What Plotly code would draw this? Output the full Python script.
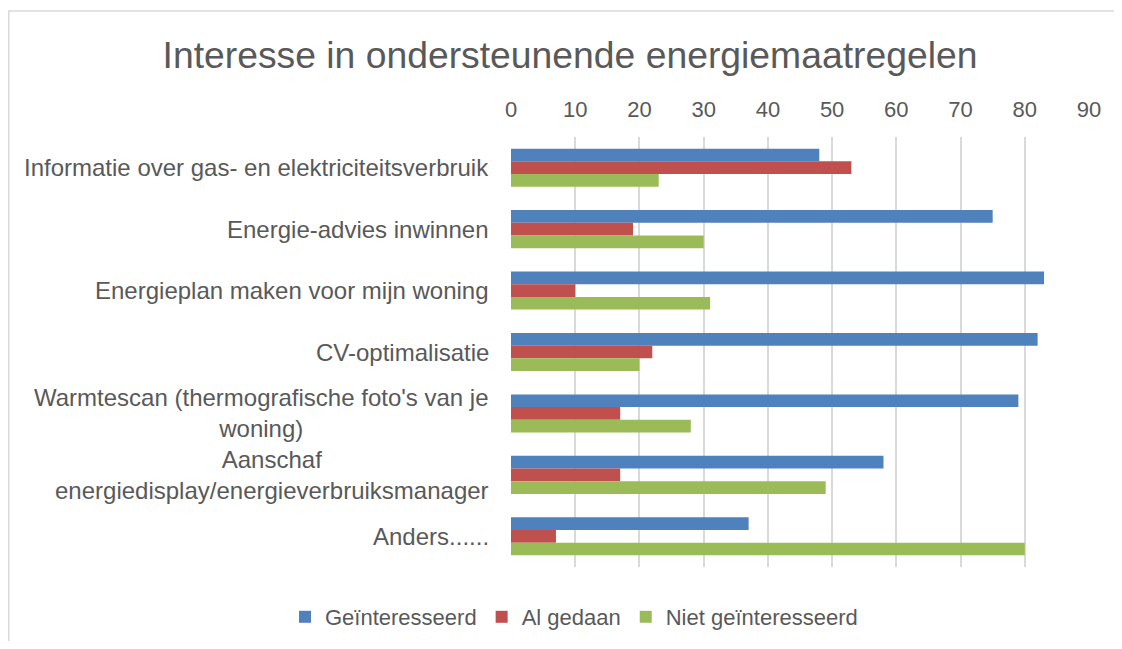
import plotly.graph_objects as go

# categorieën (boven naar beneden)
categorieen = [
    "Informatie over gas- en elektriciteitsverbruik",
    "Energie-advies inwinnen",
    "Energieplan maken voor mijn woning",
    "CV-optimalisatie",
    "Warmtescan (thermografische foto's van je<br>woning)",
    "Aanschaf<br>energiedisplay/energieverbruiksmanager",
    "Anders......",
]
geinteresseerd = [48, 75, 83, 82, 79, 58, 37]
al_gedaan = [53, 19, 10, 22, 17, 17, 7]
niet_geinteresseerd = [23, 30, 31, 20, 28, 49, 80]

x_ticks = list(range(0, 100, 10))

# pagina heeft 8px body-marge, dus figuur iets kleiner
W, H = 1106, 633
ML, MR, MT, MB = 503, 25, 129, 74
FG = '#595959'
GRID = '#D9D9D9'
FONT = 'Liberation Sans, Arial, sans-serif'

pw = W - ML - MR
ph = H - MT - MB

fig = go.Figure()
series = [
    ('Geïnteresseerd', geinteresseerd, '#4F81BD'),
    ('Al gedaan', al_gedaan, '#C0504D'),
    ('Niet geïnteresseerd', niet_geinteresseerd, '#9BBB59'),
]
for naam, waarden, kleur in series:
    fig.add_trace(go.Bar(
        y=categorieen, x=waarden, name=naam, orientation='h',
        marker={'color': kleur, 'line': {'width': 0}},
    ))

# categorie-labels als gecentreerde tekstblokken (zoals Excel)
for cat in categorieen:
    fig.add_annotation(
        x=0, xref='paper', y=cat, yref='y', text=cat,
        xanchor='right', yanchor='middle', align='center', xshift=-20,
        showarrow=False, font={'size': 24, 'color': FG, 'family': FONT},
    )

# rand rondom grafiek
fig.add_shape(
    type='rect', xref='paper', yref='paper',
    x0=(0.75 - ML) / pw, x1=(W + 10 - ML) / pw,
    y0=(H - MB - (H + 10)) / ph, y1=(H - MB - 3) / ph,
    line={'color': GRID, 'width': 1.5}, fillcolor='rgba(0,0,0,0)', layer='below',
)

fig.update_layout(
    width=W, height=H,
    margin={'l': ML, 'r': MR, 't': MT, 'b': MB, 'autoexpand': False},
    paper_bgcolor='white', plot_bgcolor='white',
    font={'family': FONT, 'color': FG, 'size': 22},
    title={
        'text': 'Interesse in ondersteunende energiemaatregelen',
        'font': {'size': 37.3, 'color': FG, 'family': FONT},
        'x': 562 / W, 'xanchor': 'center', 'xref': 'container',
        'y': 1 - 47 / H, 'yanchor': 'middle', 'yref': 'container',
    },
    barmode='group', bargap=0.38, bargroupgap=0,
    xaxis={
        'side': 'top', 'range': [0, 90], 'tickvals': x_ticks,
        'showgrid': True, 'gridcolor': GRID, 'gridwidth': 1.5,
        'zeroline': False, 'showline': False,
        'ticks': 'outside', 'ticklen': 10, 'tickcolor': 'rgba(0,0,0,0)',
        'tickfont': {'size': 22, 'color': FG},
        'fixedrange': True,
    },
    yaxis={
        'autorange': 'reversed', 'showticklabels': False,
        'showgrid': False, 'zeroline': False, 'showline': False,
        'fixedrange': True,
    },
    legend={
        'orientation': 'h', 'xref': 'container', 'yref': 'container',
        'x': 566 / W, 'xanchor': 'center',
        'y': 1 - 609 / H, 'yanchor': 'middle',
        'font': {'size': 22, 'color': FG},
        'traceorder': 'normal',
    },
    showlegend=True,
)

fig.write_html("out.html")
